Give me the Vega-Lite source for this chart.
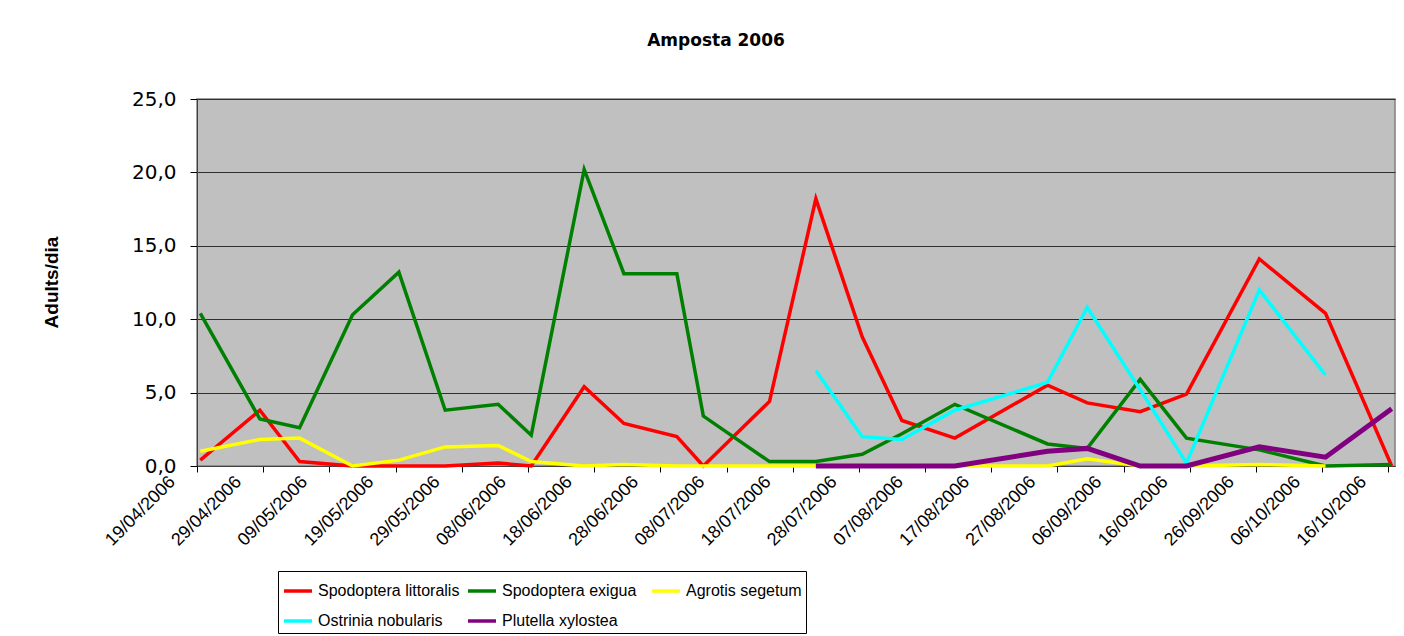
{
  "$schema": "https://vega.github.io/schema/vega-lite/v6.json",
  "width": 1198,
  "height": 367,
  "autosize": {"type": "none"},
  "padding": {"left": 197, "top": 99, "right": 9, "bottom": 170},
  "background": "white",
  "title": {"text": "Amposta 2006", "frame": "group", "anchor": "middle", "dx": -80, "offset": 26, "baseline": "alphabetic", "font": "DejaVu Sans", "fontSize": 17, "fontWeight": "bold", "color": "black"},
  "data": {"values": [
    {"date": "2006-04-19", "Spodoptera littoralis": 0.4, "Spodoptera exigua": 10.4, "Agrotis segetum": 1.0, "Ostrinia nobularis": null, "Plutella xylostea": null},
    {"date": "2006-04-28", "Spodoptera littoralis": 3.8, "Spodoptera exigua": 3.2, "Agrotis segetum": 1.8, "Ostrinia nobularis": null, "Plutella xylostea": null},
    {"date": "2006-05-04", "Spodoptera littoralis": 0.3, "Spodoptera exigua": 2.6, "Agrotis segetum": 1.9, "Ostrinia nobularis": null, "Plutella xylostea": null},
    {"date": "2006-05-12", "Spodoptera littoralis": 0.0, "Spodoptera exigua": 10.3, "Agrotis segetum": 0.0, "Ostrinia nobularis": null, "Plutella xylostea": null},
    {"date": "2006-05-19", "Spodoptera littoralis": 0.0, "Spodoptera exigua": 13.2, "Agrotis segetum": 0.4, "Ostrinia nobularis": null, "Plutella xylostea": null},
    {"date": "2006-05-26", "Spodoptera littoralis": 0.0, "Spodoptera exigua": 3.8, "Agrotis segetum": 1.3, "Ostrinia nobularis": null, "Plutella xylostea": null},
    {"date": "2006-06-03", "Spodoptera littoralis": 0.2, "Spodoptera exigua": 4.2, "Agrotis segetum": 1.4, "Ostrinia nobularis": null, "Plutella xylostea": null},
    {"date": "2006-06-08", "Spodoptera littoralis": 0.0, "Spodoptera exigua": 2.1, "Agrotis segetum": 0.3, "Ostrinia nobularis": null, "Plutella xylostea": null},
    {"date": "2006-06-16", "Spodoptera littoralis": 5.4, "Spodoptera exigua": 20.2, "Agrotis segetum": 0.0, "Ostrinia nobularis": null, "Plutella xylostea": null},
    {"date": "2006-06-22", "Spodoptera littoralis": 2.9, "Spodoptera exigua": 13.1, "Agrotis segetum": 0.1, "Ostrinia nobularis": null, "Plutella xylostea": null},
    {"date": "2006-06-30", "Spodoptera littoralis": 2.0, "Spodoptera exigua": 13.1, "Agrotis segetum": 0.0, "Ostrinia nobularis": null, "Plutella xylostea": null},
    {"date": "2006-07-04", "Spodoptera littoralis": 0.0, "Spodoptera exigua": 3.4, "Agrotis segetum": 0.0, "Ostrinia nobularis": null, "Plutella xylostea": null},
    {"date": "2006-07-14", "Spodoptera littoralis": 4.4, "Spodoptera exigua": 0.3, "Agrotis segetum": 0.0, "Ostrinia nobularis": null, "Plutella xylostea": null},
    {"date": "2006-07-21", "Spodoptera littoralis": 18.2, "Spodoptera exigua": 0.3, "Agrotis segetum": 0.0, "Ostrinia nobularis": 6.5, "Plutella xylostea": 0.0},
    {"date": "2006-07-28", "Spodoptera littoralis": 8.8, "Spodoptera exigua": 0.8, "Agrotis segetum": 0.0, "Ostrinia nobularis": 2.0, "Plutella xylostea": 0.0},
    {"date": "2006-08-03", "Spodoptera littoralis": 3.1, "Spodoptera exigua": 2.2, "Agrotis segetum": 0.0, "Ostrinia nobularis": 1.8, "Plutella xylostea": 0.0},
    {"date": "2006-08-11", "Spodoptera littoralis": 1.9, "Spodoptera exigua": 4.2, "Agrotis segetum": 0.0, "Ostrinia nobularis": 3.8, "Plutella xylostea": 0.0},
    {"date": "2006-08-25", "Spodoptera littoralis": 5.5, "Spodoptera exigua": 1.5, "Agrotis segetum": 0.0, "Ostrinia nobularis": 5.7, "Plutella xylostea": 1.0},
    {"date": "2006-08-31", "Spodoptera littoralis": 4.3, "Spodoptera exigua": 1.2, "Agrotis segetum": 0.5, "Ostrinia nobularis": 10.8, "Plutella xylostea": 1.2},
    {"date": "2006-09-08", "Spodoptera littoralis": 3.7, "Spodoptera exigua": 5.9, "Agrotis segetum": 0.0, "Ostrinia nobularis": 5.2, "Plutella xylostea": 0.0},
    {"date": "2006-09-15", "Spodoptera littoralis": 4.9, "Spodoptera exigua": 1.9, "Agrotis segetum": 0.0, "Ostrinia nobularis": 0.2, "Plutella xylostea": 0.0},
    {"date": "2006-09-26", "Spodoptera littoralis": 14.1, "Spodoptera exigua": 1.1, "Agrotis segetum": 0.1, "Ostrinia nobularis": 12.0, "Plutella xylostea": 1.3},
    {"date": "2006-10-06", "Spodoptera littoralis": 10.4, "Spodoptera exigua": 0.0, "Agrotis segetum": 0.0, "Ostrinia nobularis": 6.2, "Plutella xylostea": 0.6},
    {"date": "2006-10-16", "Spodoptera littoralis": 0.0, "Spodoptera exigua": 0.1, "Agrotis segetum": null, "Ostrinia nobularis": null, "Plutella xylostea": 3.9}
  ]},
  "transform": [
    {"fold": ["Spodoptera littoralis", "Spodoptera exigua", "Agrotis segetum", "Ostrinia nobularis", "Plutella xylostea"], "as": ["species", "value"]}
  ],
  "mark": {"type": "line", "strokeJoin": "miter"},
  "encoding": {
    "x": {
      "field": "date", "type": "temporal",
      "scale": {"type": "utc", "domain": [{"year": 2006, "month": 4, "date": 18, "hours": 12, "utc": true}, {"year": 2006, "month": 10, "date": 16, "hours": 12, "utc": true}]},
      "axis": {
        "values": [
          {"year": 2006, "month": 4, "date": 19, "utc": true},
          {"year": 2006, "month": 4, "date": 29, "utc": true},
          {"year": 2006, "month": 5, "date": 9, "utc": true},
          {"year": 2006, "month": 5, "date": 19, "utc": true},
          {"year": 2006, "month": 5, "date": 29, "utc": true},
          {"year": 2006, "month": 6, "date": 8, "utc": true},
          {"year": 2006, "month": 6, "date": 18, "utc": true},
          {"year": 2006, "month": 6, "date": 28, "utc": true},
          {"year": 2006, "month": 7, "date": 8, "utc": true},
          {"year": 2006, "month": 7, "date": 18, "utc": true},
          {"year": 2006, "month": 7, "date": 28, "utc": true},
          {"year": 2006, "month": 8, "date": 7, "utc": true},
          {"year": 2006, "month": 8, "date": 17, "utc": true},
          {"year": 2006, "month": 8, "date": 27, "utc": true},
          {"year": 2006, "month": 9, "date": 6, "utc": true},
          {"year": 2006, "month": 9, "date": 16, "utc": true},
          {"year": 2006, "month": 9, "date": 26, "utc": true},
          {"year": 2006, "month": 10, "date": 6, "utc": true},
          {"year": 2006, "month": 10, "date": 16, "utc": true}
        ],
        "labelExpr": "utcFormat(datum.value, '%d/%m/%Y')",
        "labelAngle": -45, "labelAlign": "right", "labelBaseline": "middle",
        "labelOffset": -25, "labelPadding": 7, "tickOffset": -3.3,
        "tickSize": 6, "tickColor": "black", "domainColor": "#404040",
        "labelFont": "Liberation Sans", "labelFontSize": 18, "labelColor": "black",
        "grid": false, "title": null, "labelOverlap": false, "labelBound": false, "labelFlush": false
      }
    },
    "y": {
      "field": "value", "type": "quantitative",
      "scale": {"domain": [0, 25], "nice": false},
      "axis": {
        "values": [0, 5, 10, 15, 20, 25], "format": ".1f",
        "grid": true, "gridColor": "#303030", "gridWidth": 1,
        "tickSize": 7, "tickColor": "black", "domainColor": "#404040",
        "labelFont": "DejaVu Sans", "labelFontSize": 20, "labelColor": "black", "labelPadding": 14,
        "title": "Adults/dia", "titleFont": "Liberation Sans", "titleFontSize": 19, "titleFontWeight": "bold",
        "titleAngle": 270, "titleX": -146, "titleY": 183, "titleAlign": "center", "titleBaseline": "middle", "titleColor": "black"
      }
    },
    "color": {
      "field": "species", "type": "nominal",
      "scale": {"domain": ["Spodoptera littoralis", "Spodoptera exigua", "Agrotis segetum", "Ostrinia nobularis", "Plutella xylostea"], "range": ["#FF0000", "#008000", "#FFFF00", "#00FFFF", "#800080"]},
      "legend": {"title": null, "orient": "none", "legendX": 81, "legendY": 472, "direction": "horizontal", "columns": 3, "gridAlign": "all", "symbolType": "stroke", "symbolSize": 784, "symbolStrokeWidth": 3.5, "labelFont": "Liberation Sans", "labelFontSize": 16, "labelColor": "black", "labelOffset": 4, "labelLimit": 300, "strokeColor": "black", "fillColor": "white", "padding": 4, "rowPadding": 6, "columnPadding": 1}
    },
    "strokeWidth": {
      "condition": {"test": "datum.species === 'Plutella xylostea'", "value": 5},
      "value": 3.5
    }
  },
  "config": {
    "view": {"fill": "#C0C0C0", "stroke": "#808080", "strokeWidth": 1.5},
    "locale": {"number": {"decimal": ",", "thousands": ".", "grouping": [3], "currency": ["", " €"]}}
  }
}
